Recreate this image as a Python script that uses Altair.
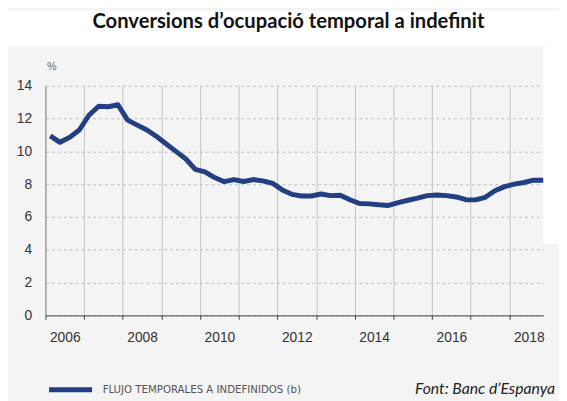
import altair as alt
import pandas as pd

# Quarterly series 2006 Q1 .. 2018 Q4 (%)
years = [2006, 2007, 2008, 2009, 2010, 2011, 2012, 2013, 2014, 2015, 2016, 2017, 2018]
values_2006 = [10.94, 10.55, 10.85, 11.30]
values_2007 = [12.20, 12.75, 12.72, 12.84]
values_2008 = [11.90, 11.60, 11.30, 10.90]
values_2009 = [10.45, 10.00, 9.55, 8.90]
values_2010 = [8.75, 8.40, 8.15, 8.28]
values_2011 = [8.16, 8.28, 8.20, 8.05]
values_2012 = [7.65, 7.38, 7.28, 7.28]
values_2013 = [7.40, 7.30, 7.32, 7.05]
values_2014 = [6.82, 6.80, 6.74, 6.70]
values_2015 = [6.88, 7.02, 7.15, 7.30]
values_2016 = [7.34, 7.30, 7.22, 7.05]
values_2017 = [7.04, 7.20, 7.60, 7.85]
values_2018 = [8.00, 8.10, 8.24, 8.24]
series_name = "FLUJO TEMPORALES A INDEFINIDOS (b)"
title_text = "Conversions d\u2019ocupació temporal a indefinit"
source_text = "Font: Banc d\u2019Espanya"

all_vals = [values_2006, values_2007, values_2008, values_2009, values_2010,
            values_2011, values_2012, values_2013, values_2014, values_2015,
            values_2016, values_2017, values_2018]
rows = []
for y, vals in zip(years, all_vals):
    for q, v in enumerate(vals):
        rows.append({"t": y + (q + 0.5) / 4, "v": v, "serie": series_name})
df = pd.DataFrame(rows)

W, H = 505, 233
one = pd.DataFrame({"a": [0]})

# white areas outside the grey panel
white_top = alt.Chart(one).mark_rect(color="white").encode(
    x=alt.value(-38), x2=alt.value(521), y=alt.value(-76), y2=alt.value(-40))
white_right = alt.Chart(one).mark_rect(color="white").encode(
    x=alt.value(W), x2=alt.value(521), y=alt.value(-40), y2=alt.value(160))

line = alt.Chart(df).mark_line(strokeWidth=5, strokeJoin="round", strokeCap="butt").encode(
    x=alt.X("t:Q",
            scale=alt.Scale(domain=[2006, 2018.875], nice=False, zero=False),
            axis=alt.Axis(values=years, format="d",
                          labelExpr="datum.value % 2 == 0 ? datum.label : ''",
                          labelFlush=False, labelOverlap=False,
                          labelOffset=19.6, labelPadding=11, tickSize=4,
                          tickColor="#444", domainColor="#444",
                          gridColor="#c4c4c4", gridWidth=1,
                          labelFont="Liberation Sans", labelFontSize=14,
                          labelColor="#333", title=None)),
    y=alt.Y("v:Q",
            scale=alt.Scale(domain=[0, 14], nice=False),
            axis=alt.Axis(values=[0, 2, 4, 6, 8, 10, 12, 14], ticks=False,
                          labelPadding=14, domainColor="#888",
                          gridColor="#bdbdbd", gridDash=[3, 3], gridWidth=1,
                          labelFont="Liberation Sans", labelFontSize=14,
                          labelColor="#333",
                          title="%", titleAngle=0, titleX=6, titleY=-19,
                          titleFont="Liberation Sans", titleFontSize=11,
                          titleFontWeight="normal", titleColor="#666",
                          titleAlign="center", titleBaseline="middle")),
    color=alt.Color("serie:N", scale=alt.Scale(range=["#233f83"]),
                    legend=alt.Legend(orient="none", legendX=1, legendY=284,
                                      title=None, symbolType="stroke",
                                      symbolStrokeWidth=5, symbolSize=1900,
                                      labelFont="DejaVu Sans Condensed, Roboto Condensed, Roboto",
                                      labelFontSize=11.5, labelColor="#555",
                                      labelLimit=400, labelOffset=8))
)

source = alt.Chart(one).mark_text(
    text=source_text, font="Lato", fontStyle="italic", fontSize=16,
    color="#222", align="right", baseline="alphabetic"
).encode(x=alt.value(517), y=alt.value(313))

chart = alt.layer(white_top, white_right, line, source).properties(
    width=W, height=H,
    padding={"left": 38, "top": 76, "right": 16, "bottom": 84},
    autosize=alt.AutoSizeParams(type="none"),
    background="#f4f4f4",
    title=alt.TitleParams(title_text, anchor="middle", frame="group",
                          font="Lato", fontSize=20.5, fontWeight="bold",
                          color="#111", dx=-6, offset=0, dy=22),
).configure_view(stroke=None)

chart.save("out.html", embed_options={"renderer": "svg", "actions": False})
